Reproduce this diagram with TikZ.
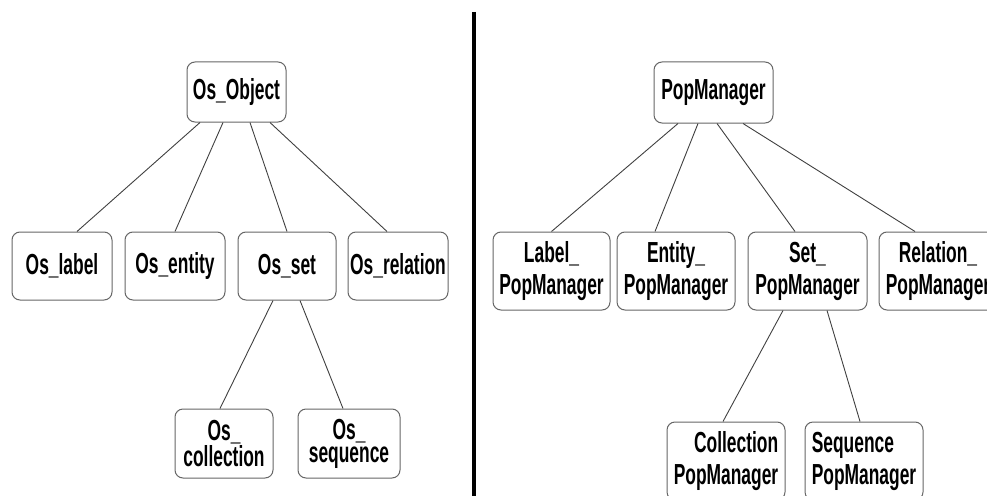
\documentclass[tikz,border=0pt]{standalone}
\usepackage{fontspec}
\setmainfont[FakeStretch=0.6,UprightFont={* Bold}]{Liberation Sans}
\begin{document}
\begin{tikzpicture}[x=1pt,y=-1pt,
  cls/.style={draw=black!60, line width=1pt, rounded corners=8pt, fill=white,
    inner sep=0pt, align=center, font=\fontsize{29}{32}\selectfont},
  link/.style={draw=black!75, line width=0.9pt}]
\useasboundingbox (0,0) rectangle (987,495);
\clip (0,0) rectangle (987,495);

% divider between the two hierarchies
\draw[line width=4pt] (474,12) -- (474,500);

% ---- object hierarchy ----
\node[cls, minimum width=99pt, minimum height=60pt] (obj) at (236.5,92) {Os\_Object};
\node[cls, minimum width=100pt, minimum height=68pt] (oslabel) at (62,266) {Os\_label};
\node[cls, minimum width=100pt, minimum height=68pt] (osentity) at (175,266) {Os\_entity};
\node[cls, minimum width=98pt, minimum height=68pt] (osset) at (287,266) {Os\_set};
\node[cls, minimum width=100pt, minimum height=68pt] (osrel) at (398,266) {Os\_relation};
\node[cls, minimum width=98pt, minimum height=69pt, font=\fontsize{29}{23}\selectfont] (oscoll) at (224,443.5) {Os\_\\collection};
\node[cls, minimum width=102pt, minimum height=69pt, font=\fontsize{29}{23}\selectfont] (osseq) at (349,443.5) {Os\_\\sequence};

\draw[link] ([xshift=-36.5pt]obj.south) -- ([xshift=15pt]oslabel.north);
\draw[link] ([xshift=-13.5pt]obj.south) -- (osentity.north);
\draw[link] ([xshift=13.5pt]obj.south) -- (osset.north);
\draw[link] ([xshift=33.5pt]obj.south) -- ([xshift=-11pt]osrel.north);
\draw[link] ([xshift=-14pt]osset.south) -- ([xshift=-4pt]oscoll.north);
\draw[link] ([xshift=13pt]osset.south) -- ([xshift=-6pt]osseq.north);

% ---- manager hierarchy ----
\node[cls, minimum width=119pt, minimum height=61pt] (pm) at (713.5,92.5) {PopManager};
\node[cls, minimum width=117pt, minimum height=78pt] (lpm) at (551.5,271) {Label\_\\PopManager};
\node[cls, minimum width=118pt, minimum height=78pt] (epm) at (676,271) {Entity\_\\PopManager};
\node[cls, minimum width=119pt, minimum height=78pt] (spm) at (807.5,271) {Set\_\\PopManager};
\node[cls, minimum width=118pt, minimum height=78pt] (rpm) at (938,271) {Relation\_\\PopManager};
\node[cls, minimum width=118pt, minimum height=78pt, align=right] (cpm) at (726,461) {Collection\\PopManager};
\node[cls, minimum width=118pt, minimum height=78pt, align=left] (sqpm) at (864,461) {Sequence\\PopManager};

\draw[link] ([xshift=-35.5pt]pm.south) -- (lpm.north);
\draw[link] ([xshift=-15.5pt]pm.south) -- ([xshift=-21pt]epm.north);
\draw[link] ([xshift=3.5pt]pm.south) -- ([xshift=-12.5pt]spm.north);
\draw[link] ([xshift=29.5pt]pm.south) -- ([xshift=-23pt]rpm.north);
\draw[link] ([xshift=-24.5pt]spm.south) -- ([xshift=-3pt]cpm.north);
\draw[link] ([xshift=19.5pt]spm.south) -- ([xshift=-4pt]sqpm.north);
\end{tikzpicture}
\end{document}
